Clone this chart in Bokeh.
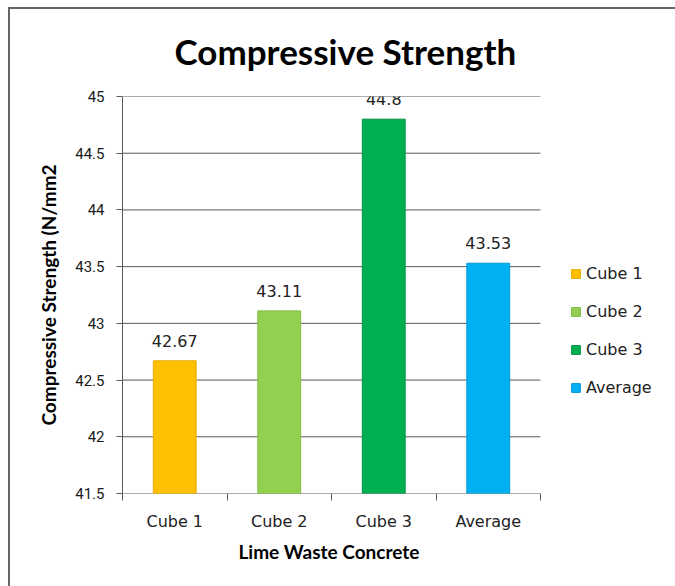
from bokeh.plotting import figure
from bokeh.models import (ColumnDataSource, FixedTicker, Legend, LegendItem,
                          LabelSet, Range1d, Title, InlineStyleSheet)
from bokeh.core.properties import value
from bokeh.embed import file_html
from bokeh.resources import INLINE

# Compressive strength of lime waste concrete cubes (N/mm2)
categories = ["Cube 1", "Cube 2", "Cube 3", "Average"]
strength = [42.67, 43.11, 44.8, 43.53]
value_labels = ["42.67", "43.11", "44.8", "43.53"]
fill_colors = ["#FFC000", "#92D050", "#00B050", "#00B0F0"]
edge_colors = ["#E8AE00", "#7DBA3E", "#00923F", "#0098D4"]
y_ticks = [41.5, 42, 42.5, 43, 43.5, 44, 44.5, 45]

n = len(categories)
centers = [i + 0.5 for i in range(n)]
source = ColumnDataSource(dict(
    x=centers, top=strength, label=value_labels,
    fill=fill_colors, edge=edge_colors, name=categories,
))

# page geometry: plotting area runs from x=122 to x=540, the legend sits
# to its right inside the same frame
WIDTH, HEIGHT = 675, 586
LEFT, AREA_RIGHT = 122, 540
x_end = n * (WIDTH - LEFT) / (AREA_RIGHT - LEFT)

# thin frame line around the chart area (left and top edges visible)
frame_css = InlineStyleSheet(css="""
:host::after {
  content: "";
  position: fixed;
  left: 8px; top: 7px; right: 0; bottom: 0;
  border-left: 2px solid #666666;
  border-top: 2px solid #666666;
  pointer-events: none;
}
""")

p = figure(width=WIDTH, height=HEIGHT, output_backend="svg", toolbar_location=None,
           x_range=Range1d(0, x_end), y_range=Range1d(41.5, 45),
           min_border_left=LEFT, min_border_right=0,
           min_border_top=96, min_border_bottom=93,
           background_fill_color="white", border_fill_color="white",
           stylesheets=[frame_css])
p.outline_line_color = None

axis_gray = "#5a5a5a"

# title
p.title.text = "Compressive Strength"
p.title.text_font = "Lato"
p.title.text_font_style = "bold"
p.title.text_font_size = "35px"
p.title.text_color = "black"
p.title.align = "left"
p.title.vertical_align = "top"
p.title.offset = 52
p.title.standoff = 46

# horizontal gridlines across the category area only
p.segment(x0=0, x1=n, y0=y_ticks, y1=y_ticks, line_color=axis_gray, line_width=1)

bars = p.vbar(x="x", top="top", bottom=41.5, width=0.41, source=source,
              fill_color="fill", line_color="edge", line_width=1)

labels = LabelSet(x="x", y="top", text="label", source=source,
                  y_offset=14, text_align="center", text_baseline="bottom",
                  text_font=value("DejaVu Sans"), text_font_size=value("16px"),
                  text_color="#222222")
p.add_layout(labels)

# y axis
p.yaxis.ticker = FixedTicker(ticks=y_ticks)
p.yaxis.major_label_overrides = {t: f"{t:g}" for t in y_ticks}
p.yaxis.axis_label = "Compressive Strength (N/mm2"
p.yaxis.axis_label_text_font = "Lato"
p.yaxis.axis_label_text_font_style = "bold"
p.yaxis.axis_label_text_font_size = "19px"
p.yaxis.axis_label_text_color = "black"
p.yaxis.axis_label_standoff = 12
p.yaxis.major_label_text_font = "Roboto"
p.yaxis.major_label_text_font_size = "15px"
p.yaxis.major_label_text_color = "#1a1a1a"
p.yaxis.major_label_standoff = 12
p.yaxis.axis_line_color = axis_gray
p.yaxis.major_tick_line_color = axis_gray
p.yaxis.major_tick_in = 0
p.yaxis.major_tick_out = 6
p.yaxis.minor_tick_line_color = None

# x axis: labels at bar centres, tick marks on category boundaries
p.xaxis.ticker = FixedTicker(ticks=centers, minor_ticks=list(range(n + 1)))
p.xaxis.major_label_overrides = {c: name for c, name in zip(centers, categories)}
p.xaxis.major_tick_line_color = None
p.xaxis.major_tick_in = 0
p.xaxis.major_tick_out = 0
p.xaxis.minor_tick_line_color = axis_gray
p.xaxis.minor_tick_in = 0
p.xaxis.minor_tick_out = 7
p.xaxis.axis_line_color = None
p.xaxis.major_label_text_font = "DejaVu Sans"
p.xaxis.major_label_text_font_size = "16px"
p.xaxis.major_label_text_color = "#222222"
p.xaxis.major_label_standoff = 11

# x axis title, centred under the category area
x_title = Title(text="Lime Waste Concrete", text_font="Lato",
                text_font_style="bold", text_font_size="19px",
                text_color="black", align="left", offset=116, standoff=9)
p.add_layout(x_title, "below")

p.xgrid.grid_line_color = None
p.ygrid.grid_line_color = None

legend = Legend(items=[LegendItem(label=name, renderers=[bars], index=i)
                       for i, name in enumerate(categories)],
                location=(448, 96), orientation="vertical",
                glyph_width=11, glyph_height=11, label_standoff=5,
                label_height=20, spacing=18, padding=0, margin=0,
                border_line_color=None, background_fill_alpha=0,
                label_text_font="DejaVu Sans", label_text_font_size="16px",
                label_text_color="#222222")
p.add_layout(legend)

open("out.html", "w").write(file_html(p, INLINE))
